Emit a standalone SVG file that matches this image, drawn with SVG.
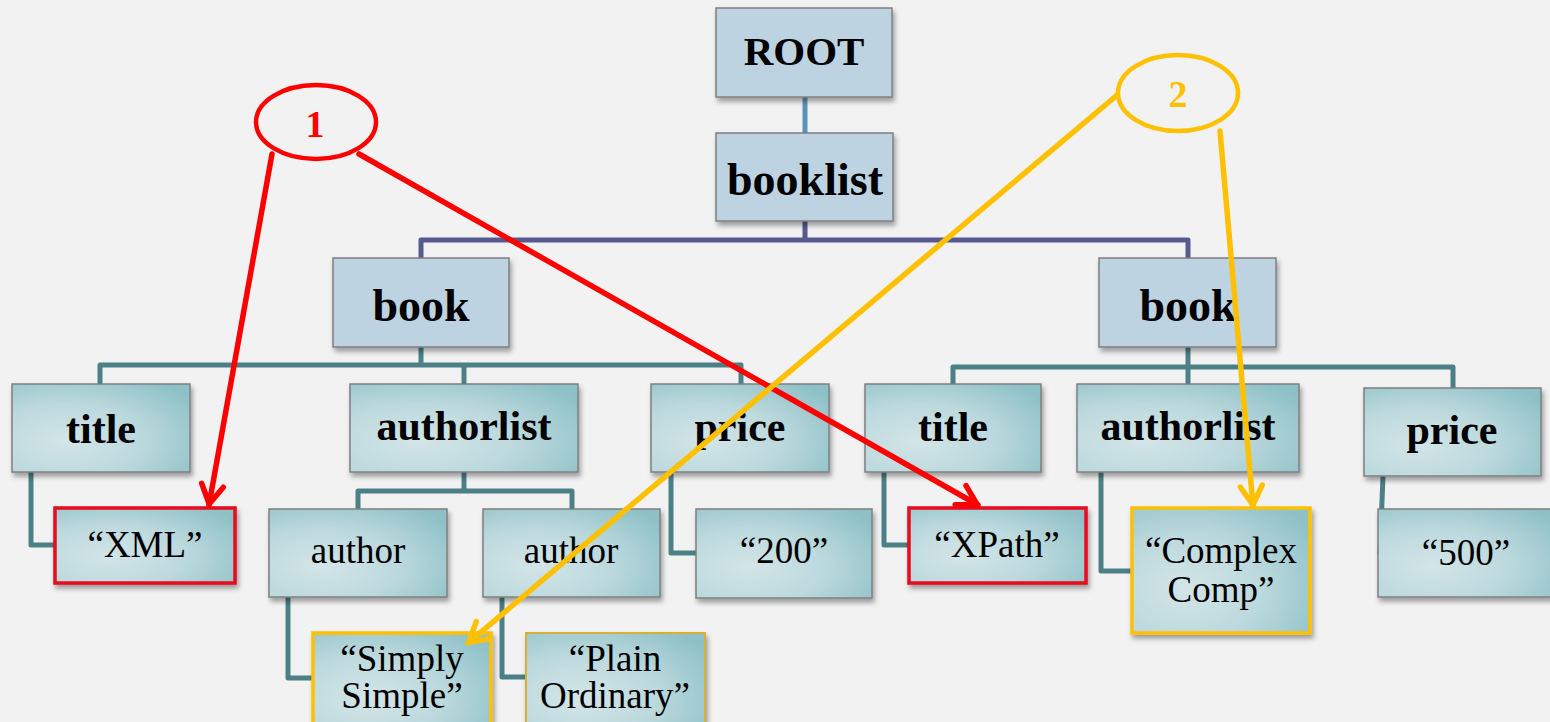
<svg xmlns="http://www.w3.org/2000/svg" width="1550" height="722" viewBox="0 0 1550 722">
  <defs>
    <style>
      .top { fill: #bed3e1; stroke: #7f7f7f; stroke-width: 1.5; filter: url(#shadow); }
      .leaf { fill: url(#teal); stroke: #7f7f7f; stroke-width: 1.5; filter: url(#shadow); }
      .hl-red { fill: url(#teal); stroke: #e8071f; stroke-width: 3.5; filter: url(#shadow); }
      .hl-yel { fill: url(#teal); stroke: #ffc000; stroke-width: 3.5; filter: url(#shadow); }
      .big { font-family: "Liberation Serif", "Times New Roman", serif; font-weight: bold; font-size: 46px; fill: #000; text-anchor: middle; }
      .mid { font-family: "Liberation Serif", "Times New Roman", serif; font-weight: bold; font-size: 42px; fill: #000; text-anchor: middle; }
      .val { font-family: "Liberation Serif", "Times New Roman", serif; font-size: 37px; fill: #000; text-anchor: middle; }
      .num { font-family: "Liberation Serif", "Times New Roman", serif; font-weight: bold; font-size: 38px; text-anchor: middle; }
      .edge { fill: none; stroke-width: 5; stroke-linejoin: round; stroke-linecap: square; }
      .ptr { fill: none; stroke-width: 5.5; stroke-linecap: round; }
    </style>
    <radialGradient id="teal" cx="0.3" cy="0.65" r="0.85">
      <stop offset="0" stop-color="#d3e5e8"/>
      <stop offset="0.5" stop-color="#bcd9dd"/>
      <stop offset="1" stop-color="#8ec1c7"/>
    </radialGradient>
    <filter id="shadow" x="-10%" y="-10%" width="125%" height="135%">
      <feDropShadow dx="2" dy="4" stdDeviation="2.5" flood-color="#000" flood-opacity="0.35"/>
    </filter>
    <marker id="headRed" markerUnits="userSpaceOnUse" markerWidth="40" markerHeight="40" viewBox="-30 -20 40 40" refX="0" refY="0" orient="auto" overflow="visible">
      <path d="M-20,-11 L-1,0 L-20,11" fill="none" stroke="#ff0000" stroke-width="5.5" stroke-linecap="round" stroke-linejoin="round"/>
    </marker>
    <marker id="headYel" markerUnits="userSpaceOnUse" markerWidth="40" markerHeight="40" viewBox="-30 -20 40 40" refX="0" refY="0" orient="auto" overflow="visible">
      <path d="M-20,-11 L-1,0 L-20,11" fill="none" stroke="#ffc000" stroke-width="5.5" stroke-linecap="round" stroke-linejoin="round"/>
    </marker>
  </defs>

  <rect width="1550" height="722" fill="#f2f2f2"/>

  <!-- tree connectors -->
  <g id="connectors">
    <path class="edge" stroke="#5b93b8" d="M805,97 V133"/>
    <path class="edge" stroke="#575a8f" d="M805,221 V240 M421,258 V240 H1188 V258"/>
    <path class="edge" stroke="#4a8086" d="M421,347 V365 M100,384 V365 H741 V384 M464,365 V384"/>
    <path class="edge" stroke="#4a8086" d="M1188,347 V384 M953,384 V367 H1453 V388"/>
    <path class="edge" stroke="#4a8086" d="M31,472 V545 H54"/>
    <path class="edge" stroke="#4a8086" d="M464,472 V491 M358,509 V491 H572 V509"/>
    <path class="edge" stroke="#4a8086" d="M288,597 V678 H312"/>
    <path class="edge" stroke="#4a8086" d="M502,597 V677 H526"/>
    <path class="edge" stroke="#4a8086" d="M671,472 V553 H696"/>
    <path class="edge" stroke="#4a8086" d="M884,472 V545 H908"/>
    <path class="edge" stroke="#4a8086" d="M1101,472 V571 H1131"/>
    <path class="edge" stroke="#4a8086" d="M1383,476 L1380,552"/>
  </g>

  <g id="root">
    <rect class="top" x="716" y="8" width="176" height="89"/>
    <text class="big" x="804" y="65" style="font-size:41px">ROOT</text>
  </g>
  <g id="booklist">
    <rect class="top" x="716" y="133" width="177" height="88"/>
    <text class="big" x="805" y="195">booklist</text>
  </g>
  <g id="book1">
    <rect class="top" x="333" y="258" width="176" height="89"/>
    <text class="big" x="421" y="321">book</text>
  </g>
  <g id="book2">
    <rect class="top" x="1099" y="258" width="177" height="89"/>
    <text class="big" x="1188" y="321">book</text>
  </g>

  <g id="title1">
    <rect class="leaf" x="12" y="384" width="178" height="88"/>
    <text class="mid" x="101" y="443">title</text>
  </g>
  <g id="authorlist1">
    <rect class="leaf" x="350" y="384" width="228" height="88"/>
    <text class="mid" x="464" y="440">authorlist</text>
  </g>
  <g id="price1">
    <rect class="leaf" x="651" y="384" width="178" height="88"/>
    <text class="mid" x="740" y="441">price</text>
  </g>
  <g id="title2">
    <rect class="leaf" x="865" y="384" width="176" height="88"/>
    <text class="mid" x="953" y="441">title</text>
  </g>
  <g id="authorlist2">
    <rect class="leaf" x="1077" y="384" width="222" height="88"/>
    <text class="mid" x="1188" y="440">authorlist</text>
  </g>
  <g id="price2">
    <rect class="leaf" x="1364" y="388" width="177" height="88"/>
    <text class="mid" x="1452" y="444">price</text>
  </g>

  <g id="xml">
    <rect class="hl-red" x="55" y="508" width="180" height="75"/>
    <text class="val" x="145" y="557">“XML”</text>
  </g>
  <g id="author1">
    <rect class="leaf" x="269" y="509" width="178" height="88"/>
    <text class="val" x="358" y="563">author</text>
  </g>
  <g id="author2">
    <rect class="leaf" x="483" y="509" width="177" height="88"/>
    <text class="val" x="571" y="563">author</text>
  </g>
  <g id="v200">
    <rect class="leaf" x="696" y="509" width="176" height="89"/>
    <text class="val" x="784" y="563">“200”</text>
  </g>
  <g id="xpath">
    <rect class="hl-red" x="909" y="508" width="177" height="75"/>
    <text class="val" x="997" y="557">“XPath”</text>
  </g>
  <g id="complex">
    <rect class="hl-yel" x="1132" y="508" width="178" height="125"/>
    <text class="val" x="1221" y="563">“Complex</text>
    <text class="val" x="1221" y="602">Comp”</text>
  </g>
  <g id="v500">
    <rect class="leaf" x="1378" y="509" width="180" height="88"/>
    <text class="val" x="1466" y="565">“500”</text>
  </g>
  <g id="simply">
    <rect class="hl-yel" x="313" y="633" width="178" height="100"/>
    <text class="val" x="402" y="671">“Simply</text>
    <text class="val" x="402" y="708">Simple”</text>
  </g>
  <g id="plain">
    <rect class="leaf" x="526" y="633" width="179" height="100" style="stroke:#d9b030;stroke-width:2"/>
    <text class="val" x="615" y="671">“Plain</text>
    <text class="val" x="615" y="708">Ordinary”</text>
  </g>

  <!-- query 1 -->
  <g id="q1">
    <ellipse cx="316" cy="122" rx="60" ry="37" fill="none" stroke="#ff0000" stroke-width="4.5"/>
    <text class="num" x="315" y="137" fill="#ff0000">1</text>
    <path class="ptr" stroke="#ff0000" d="M272,154 L209,505" marker-end="url(#headRed)"/>
    <path class="ptr" stroke="#ff0000" d="M359,154 L978,505" marker-end="url(#headRed)"/>
  </g>

  <!-- query 2 -->
  <g id="q2">
    <ellipse cx="1178" cy="93" rx="60" ry="38" fill="none" stroke="#ffc000" stroke-width="4.5"/>
    <text class="num" x="1178" y="107" fill="#ffc000">2</text>
    <path class="ptr" stroke="#ffc000" d="M1116,96 L468,643" marker-end="url(#headYel)"/>
    <path class="ptr" stroke="#ffc000" d="M1220,131 L1253,506" marker-end="url(#headYel)"/>
  </g>
</svg>
